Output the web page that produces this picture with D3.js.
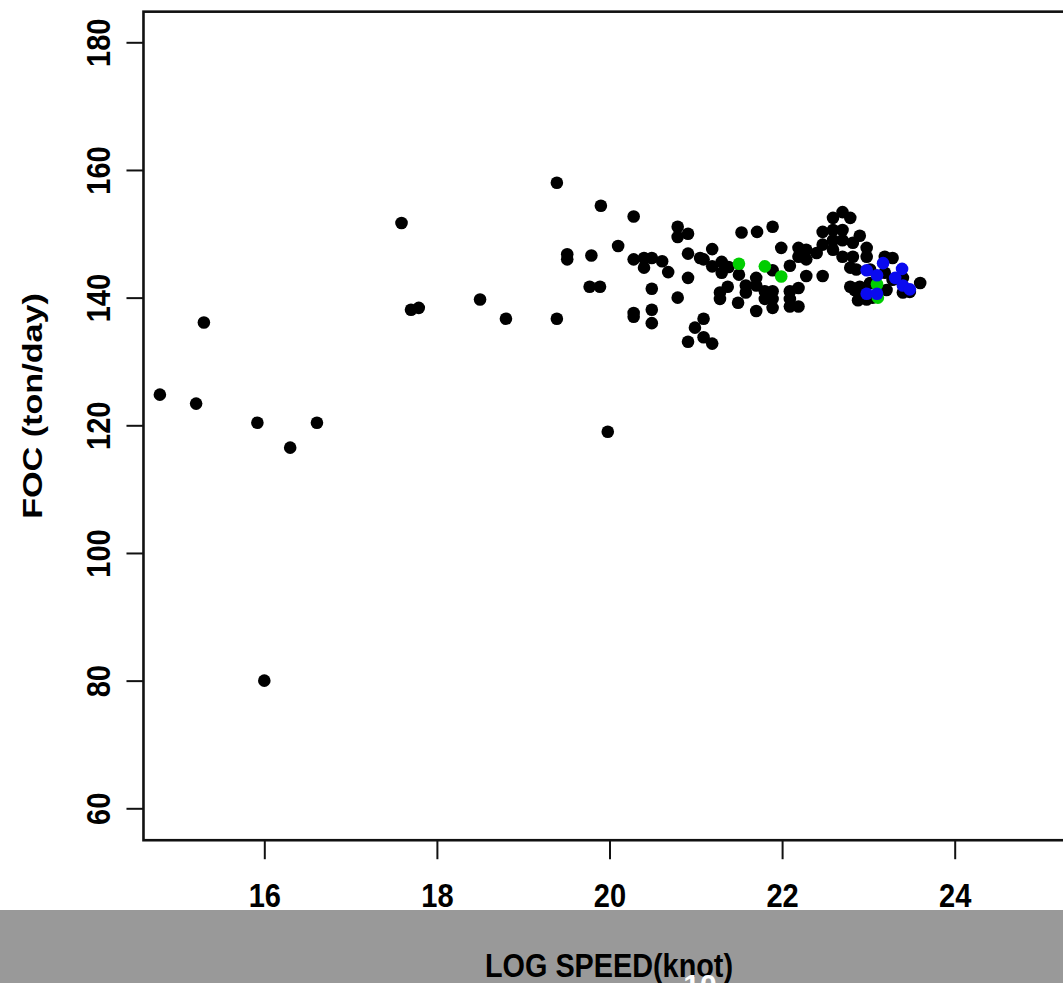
<!DOCTYPE html>
<html>
<head>
<meta charset="utf-8">
<script src="https://cdnjs.cloudflare.com/ajax/libs/d3/7.8.5/d3.min.js"></script>
<style>
  body { margin: 0; background: #fff; }
  svg { display: block; }
  text { font-family: "Liberation Sans", Arial, sans-serif; font-weight: bold; }
</style>
</head>
<body>
<div id="chart"></div>
<script>

// data
var speedBlack = [
  14.79, 15.21, 15.30, 15.92, 16.30, 16.61, 16.00, 17.59, 17.70, 17.79,
  18.50, 18.80, 19.39, 19.39, 19.51, 19.51, 19.79, 19.77, 19.89, 19.90,
  19.98, 20.28, 20.10, 20.28, 20.40, 20.49, 20.61, 20.40, 20.68, 20.49,
  20.28, 20.28, 20.49, 20.49, 20.79, 20.79, 20.79, 20.91, 20.91, 20.91,
  20.99, 20.91, 21.05, 21.53, 21.71, 21.89, 21.19, 21.09, 21.19, 21.30,
  21.38, 21.30, 21.50, 21.89, 21.99, 22.09, 22.19, 22.28, 22.19, 22.28,
  22.40, 22.28, 22.47, 21.37, 21.28, 21.28, 21.58, 21.58, 21.49, 21.70,
  21.70, 21.80, 21.89, 21.80, 21.89, 21.89, 21.70, 22.09, 22.19, 22.09,
  22.09, 22.19, 21.09, 21.09, 21.19, 22.70, 22.59, 22.79, 22.47, 22.59,
  22.70, 22.90, 22.59, 22.70, 22.82, 22.98, 22.47, 22.59, 22.70, 22.82,
  22.98, 22.79, 22.86, 23.02, 22.79, 22.90, 23.02, 22.90, 22.98, 23.19,
  23.28, 23.19, 23.28, 23.40, 23.60, 23.48, 23.40, 23.21, 23.05, 22.84,
  22.88
];
var focBlack = [
  124.8, 123.4, 136.1, 120.4, 116.5, 120.4, 80.0, 151.7, 138.1, 138.4,
  139.7, 136.7, 158.0, 136.7, 146.8, 146.0, 146.6, 141.7, 141.7, 154.4,
  119.0, 152.7, 148.1, 146.0, 146.2, 146.2, 145.7, 144.7, 144.0, 141.4,
  137.6, 137.0, 138.1, 136.0, 140.0, 151.1, 149.5, 150.0, 146.9, 143.1,
  135.3, 133.1, 146.2, 150.2, 150.3, 151.1, 147.6, 146.0, 144.9, 145.6,
  144.8, 143.9, 143.6, 144.3, 147.8, 145.0, 147.8, 147.5, 146.4, 146.0,
  147.0, 143.4, 143.4, 141.7, 140.8, 139.8, 141.9, 140.8, 139.2, 143.1,
  141.9, 141.0, 141.0, 139.8, 139.8, 138.4, 137.9, 141.0, 141.5, 139.8,
  138.6, 138.6, 136.7, 133.8, 132.8, 153.4, 152.5, 152.5, 150.3, 150.6,
  150.6, 149.7, 149.0, 149.0, 148.6, 147.8, 148.3, 147.5, 146.4, 146.4,
  146.4, 144.7, 144.4, 144.4, 141.7, 141.7, 142.3, 140.0, 139.7, 146.4,
  146.2, 143.9, 142.8, 143.1, 142.3, 140.9, 140.8, 141.2, 140.0, 141.2,
  139.6
];
var speedGreen = [21.50, 21.80, 21.99, 23.10, 23.11];
var focGreen = [145.3, 144.9, 143.3, 142.1, 140.0];
var speedBlue = [22.98, 23.10, 23.17, 23.39, 23.31, 23.40, 23.48, 22.98, 23.10];
var focBlue = [144.3, 143.5, 145.4, 144.5, 143.1, 141.9, 141.3, 140.6, 140.6];

var xTicks = [16, 18, 20, 22, 24];
var yTicks = [60, 80, 100, 120, 140, 160, 180];
var xTitle = "LOG SPEED(knot)";
var yTitle = "FOC (ton/day)";

// sizes
var width = 1063;
var height = 983;

var x = d3.scaleLinear().domain([16, 24]).range([264.3, 954.7]);
var y = d3.scaleLinear().domain([60, 180]).range([808.3, 42.3]);

var svg = d3.select("#chart").append("svg")
  .attr("width", width)
  .attr("height", height);

// plot box (right edge runs off the picture)
var boxLeft = x(14.6), boxTop = y(184.8), boxBottom = y(55);
svg.append("rect")
  .attr("x", boxLeft)
  .attr("y", boxTop)
  .attr("width", x(25.6) - boxLeft)
  .attr("height", boxBottom - boxTop)
  .attr("fill", "none")
  .attr("stroke", "#111")
  .attr("stroke-width", 2.6);

// x axis
var xAxis = svg.append("g")
  .attr("transform", "translate(0," + boxBottom + ")")
  .call(d3.axisBottom(x).tickValues(xTicks).tickSize(19).tickPadding(24));
xAxis.select(".domain").remove();
xAxis.selectAll("line").attr("stroke", "#111").attr("stroke-width", 2);
xAxis.selectAll("text")
  .attr("fill", "#000")
  .attr("font-size", 33)
  .attr("font-family", null)
  .attr("transform", "scale(0.88,1)");

// y axis
var yAxis = svg.append("g")
  .attr("transform", "translate(" + boxLeft + ",0)")
  .call(d3.axisLeft(y).tickValues(yTicks).tickSize(17));
yAxis.select(".domain").remove();
yAxis.selectAll("line").attr("stroke", "#111").attr("stroke-width", 2);
yAxis.selectAll("text")
  .attr("x", 0)
  .attr("y", 0)
  .attr("dy", 0)
  .attr("fill", "#000")
  .attr("font-size", 33)
  .attr("font-family", null)
  .attr("text-anchor", "middle")
  .attr("transform", "translate(-33,0) rotate(-90) scale(0.88,1)");

// points: black first, then green, then blue on top
function drawPoints(xs, ys, colour) {
  svg.append("g")
    .selectAll("circle")
    .data(xs)
    .enter().append("circle")
    .attr("cx", function (d) { return x(d); })
    .attr("cy", function (d, i) { return y(ys[i]); })
    .attr("r", 6.3)
    .attr("fill", colour);
}
drawPoints(speedBlack, focBlack, "#000");
drawPoints(speedGreen, focGreen, "#00cd00");
drawPoints(speedBlue, focBlue, "#0a0aef");

// grey band at the bottom
svg.append("rect")
  .attr("x", 0)
  .attr("y", 910)
  .attr("width", width)
  .attr("height", height - 910)
  .attr("fill", "#999");

// axis titles
svg.append("text")
  .attr("transform", "translate(609,977) scale(0.86,1)")
  .attr("text-anchor", "middle")
  .attr("font-size", 33.5)
  .attr("fill", "#000")
  .text(xTitle);

svg.append("text")
  .attr("transform", "translate(42,406) rotate(-90) scale(1.22,1)")
  .attr("text-anchor", "middle")
  .attr("font-size", 28)
  .attr("fill", "#000")
  .text(yTitle);

// stray white label cut by the bottom edge
svg.append("text")
  .attr("x", 700)
  .attr("y", 995)
  .attr("text-anchor", "middle")
  .attr("font-size", 30)
  .attr("font-weight", "normal")
  .attr("fill", "#fff")
  .text("10");

</script>
</body>
</html>
